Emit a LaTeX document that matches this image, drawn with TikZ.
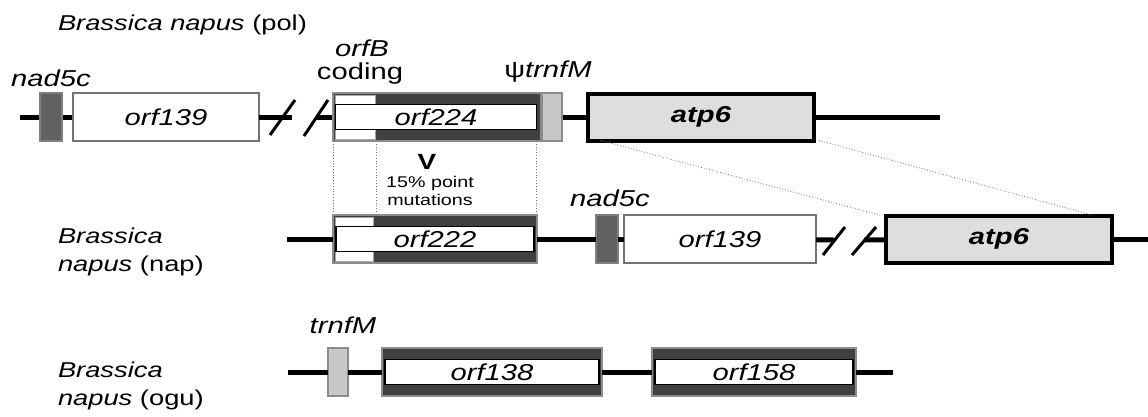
\documentclass[tikz,border=0pt]{standalone}
\usepackage{fontspec}
\setmainfont{Liberation Sans}[FakeStretch=1.27]
\begin{document}
\begin{tikzpicture}[x=1pt,y=-1pt,
  every node/.style={inner sep=0pt, outer sep=0pt},
  dna/.style={line width=5pt},
  brk/.style={line width=3pt},
  gene/.style={draw=black!55, line width=2.5pt, fill=white, minimum height=48pt, font=\fontsize{23}{26}\selectfont\itshape},
  atp/.style={draw=black, line width=4pt, fill=black!13, minimum height=47pt, font=\fontsize{23}{26}\selectfont\bfseries\itshape},
  nad/.style={draw=black!50, line width=2pt, fill=black!62, minimum width=22pt, minimum height=48pt},
  trn/.style={draw=black!45, line width=2pt, fill=black!22, minimum width=20pt, minimum height=48pt},
  orf/.style={draw=black!45, line width=2pt, fill=black!75, minimum height=48pt},
  strip/.style={draw=black, line width=1.5pt, fill=white, minimum height=25pt, font=\fontsize{23}{26}\selectfont\itshape},
  lab/.style={font=\fontsize{23}{26}\selectfont\itshape},
  species/.style={font=\fontsize{21.5}{28}\selectfont, align=left, anchor=west},
  guide/.style={black!55, line width=0.8pt, dotted}]
\useasboundingbox (0,0) rectangle (1148,416);

% Brassica napus (pol)
\node[species] (pol) at (58,25) {\textit{Brassica napus} (pol)};
\coordinate (a0) at (20,117);
\coordinate (a1) at (282,117);
\coordinate (a2) at (316,117);
\coordinate (a3) at (940,117);
\draw[dna] (a0) -- (a3);
\node[nad] (nadA) at (51,117) {};
\node[gene, minimum width=186pt] (orf139A) at (166,117) {orf139};
\fill[white] ([shift={(272,-22)}]a0) rectangle ([shift={(308,22)}]a0);
\draw[brk] ([shift={(-12,18)}]a1) -- ([shift={(13,-17)}]a1);
\draw[brk] ([shift={(-12,19)}]a2) -- ([shift={(12,-17)}]a2);
\draw[dna] (orf139A) -- (a1);
\draw[dna] (a2) -- (332,117);
\node[orf, minimum width=208pt] (orfA) at (437,117) {};
\filldraw[fill=white, draw=black!35, line width=1pt] ([shift={(2,2)}]orfA.north west) rectangle ([shift={(42,-2)}]orfA.south west);
\node[strip, minimum width=201pt] (s224) at (436,117) {orf224};
\node[trn] (psiA) at (552,117) {};
\node[atp, minimum width=226pt] (atpA) at (701,117) {atp6};
\node[lab] (nadlabA) at (51,78) {nad5c};
\node[lab] (orfBlab) at (362,48) {orfB};
\node[font=\fontsize{23}{26}\selectfont] (codlab) at (360,74) {coding};
\node[font=\fontsize{23}{26}\selectfont] (psilab) at (548,72) {ψ\textit{trnfM}};

% point mutations
\draw[guide] (orfA.south west) -- (orfA.south west |- 0,213);
\draw[guide] ([xshift=43]orfA.south west) -- ([xshift=43]orfA.south west |- 0,213);
\draw[guide] (s224.south east |- orfA.south) -- (s224.south east |- 0,213);
\node[font=\fontsize{22}{22}\selectfont\bfseries] (vee) at (427,162) {V};
\node[font=\fontsize{15.5}{18}\selectfont, align=center] (mut) at (430,191) {15\% point\\mutations};

% Brassica napus (nap)
\node[species] (nap) at (58,252) {\textit{Brassica}\\\textit{napus} (nap)};
\coordinate (b0) at (287,239);
\coordinate (b1) at (834,240);
\coordinate (b2) at (864,240);
\coordinate (b3) at (1148,239);
\node[orf, minimum width=204pt] (orfB) at (435,239) {};
\filldraw[fill=white, draw=black!35, line width=1pt] ([shift={(2,2)}]orfB.north west) rectangle ([shift={(40,-2)}]orfB.south west);
\node[strip, minimum width=198pt] (s222) at (435,239) {orf222};
\node[nad] (nadB) at (607,239) {};
\node[gene, minimum width=192pt] (orf139B) at (720,239) {orf139};
\node[atp, minimum width=226pt] (atpB) at (999,239) {atp6};
\draw[dna] (b0) -- (orfB);
\draw[dna] (orfB) -- (nadB);
\draw[dna] (nadB) -- (orf139B);
\draw[dna] (orf139B) -- (b1);
\draw[brk] ([shift={(-11,15)}]b1) -- ([shift={(11,-13)}]b1);
\draw[brk] ([shift={(-12,15)}]b2) -- ([shift={(12,-13)}]b2);
\draw[dna] (b2) -- (atpB);
\draw[dna] (atpB) -- (b3);
\node[lab] (nadlabB) at (610,198) {nad5c};
\draw[guide] ([xshift=13]atpA.south west) -- ([xshift=-5]atpB.north west);
\draw[guide] ([xshift=5]atpA.south east) -- ([xshift=-18]atpB.north east);

% Brassica napus (ogu)
\node[species] (ogu) at (58,386) {\textit{Brassica}\\\textit{napus} (ogu)};
\coordinate (c0) at (288,372);
\coordinate (c1) at (893,372);
\node[trn] (trnC) at (338,372) {};
\node[orf, minimum width=220pt] (orfC1) at (492,372) {};
\node[strip, minimum width=214pt] (s138) at (492,372) {orf138};
\node[orf, minimum width=204pt] (orfC2) at (754,372) {};
\node[strip, minimum width=198pt] (s158) at (754,372) {orf158};
\draw[dna] (c0) -- (trnC);
\draw[dna] (trnC) -- (orfC1);
\draw[dna] (orfC1) -- (orfC2);
\draw[dna] (orfC2) -- (c1);
\node[lab] (trnlab) at (343,325) {trnfM};
\end{tikzpicture}
\end{document}
